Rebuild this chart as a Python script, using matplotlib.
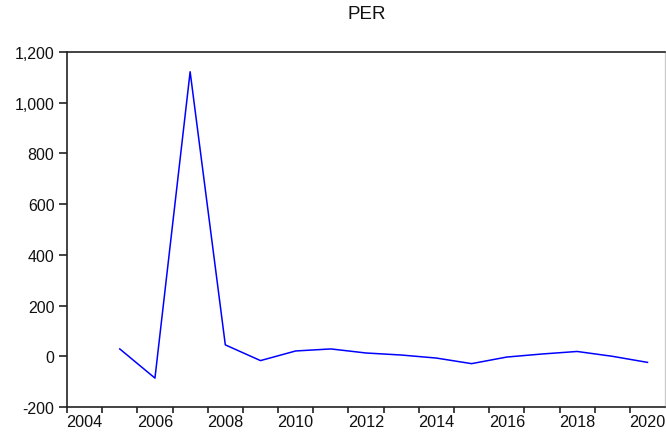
import matplotlib
matplotlib.use("Agg")
import matplotlib.pyplot as plt
from matplotlib.ticker import FixedLocator, FuncFormatter

plt.rcParams['font.family'] = ['Liberation Sans', 'DejaVu Sans']

years = [2005, 2006, 2007, 2008, 2009, 2010, 2011, 2012, 2013, 2014,
         2015, 2016, 2017, 2018, 2019, 2020]
per = [29, -86, 1122, 45, -17, 21, 29, 13, 5, -7,
       -29, -3, 9, 19, 0, -24]
label_years = [2004, 2006, 2008, 2010, 2012, 2014, 2016, 2018, 2020]
y_ticks = [-200, 0, 200, 400, 600, 800, 1000, 1200]

fig = plt.figure(figsize=(6.66, 4.39), dpi=100)
ax = fig.add_axes([0.1006, 0.0706, 0.898, 0.8087])

xs = [y + 0.5 for y in years]
ax.plot(xs, per, color='#0000FF', lw=1.1)

ax.set_xlim(2004, 2021)
ax.set_ylim(-200, 1200)

ax.xaxis.set_major_locator(FixedLocator(list(range(2004, 2021))))
ax.xaxis.set_major_formatter(FuncFormatter(lambda v, p: ''))
ax.xaxis.set_minor_locator(FixedLocator([y + 0.5 for y in label_years]))
ax.xaxis.set_minor_formatter(FuncFormatter(lambda v, p: f"{int(v - 0.5)}"))
ax.tick_params(axis='x', which='major', direction='out', length=4, width=1.2, color='#222222')
ax.tick_params(axis='x', which='minor', length=0, labelsize=11.7, pad=5, labelcolor='#111111')

ax.set_yticks(y_ticks)
ax.yaxis.set_major_formatter(FuncFormatter(lambda v, p: f"{int(v):,}"))
ax.tick_params(axis='y', direction='out', length=5.5, width=1.2, color='#222222',
               labelsize=11.5, pad=3.5, labelcolor='#111111')

for s in ['left', 'bottom', 'top']:
    ax.spines[s].set_color('#222222')
    ax.spines[s].set_linewidth(1.2)
ax.spines['right'].set_color('#cccccc')
ax.spines['right'].set_linewidth(1.0)

fig.text(0.5505, 0.966, 'PER', ha='center', va='center', fontsize=13.5, color='#111111')

fig.savefig('out.png', dpi=100)
